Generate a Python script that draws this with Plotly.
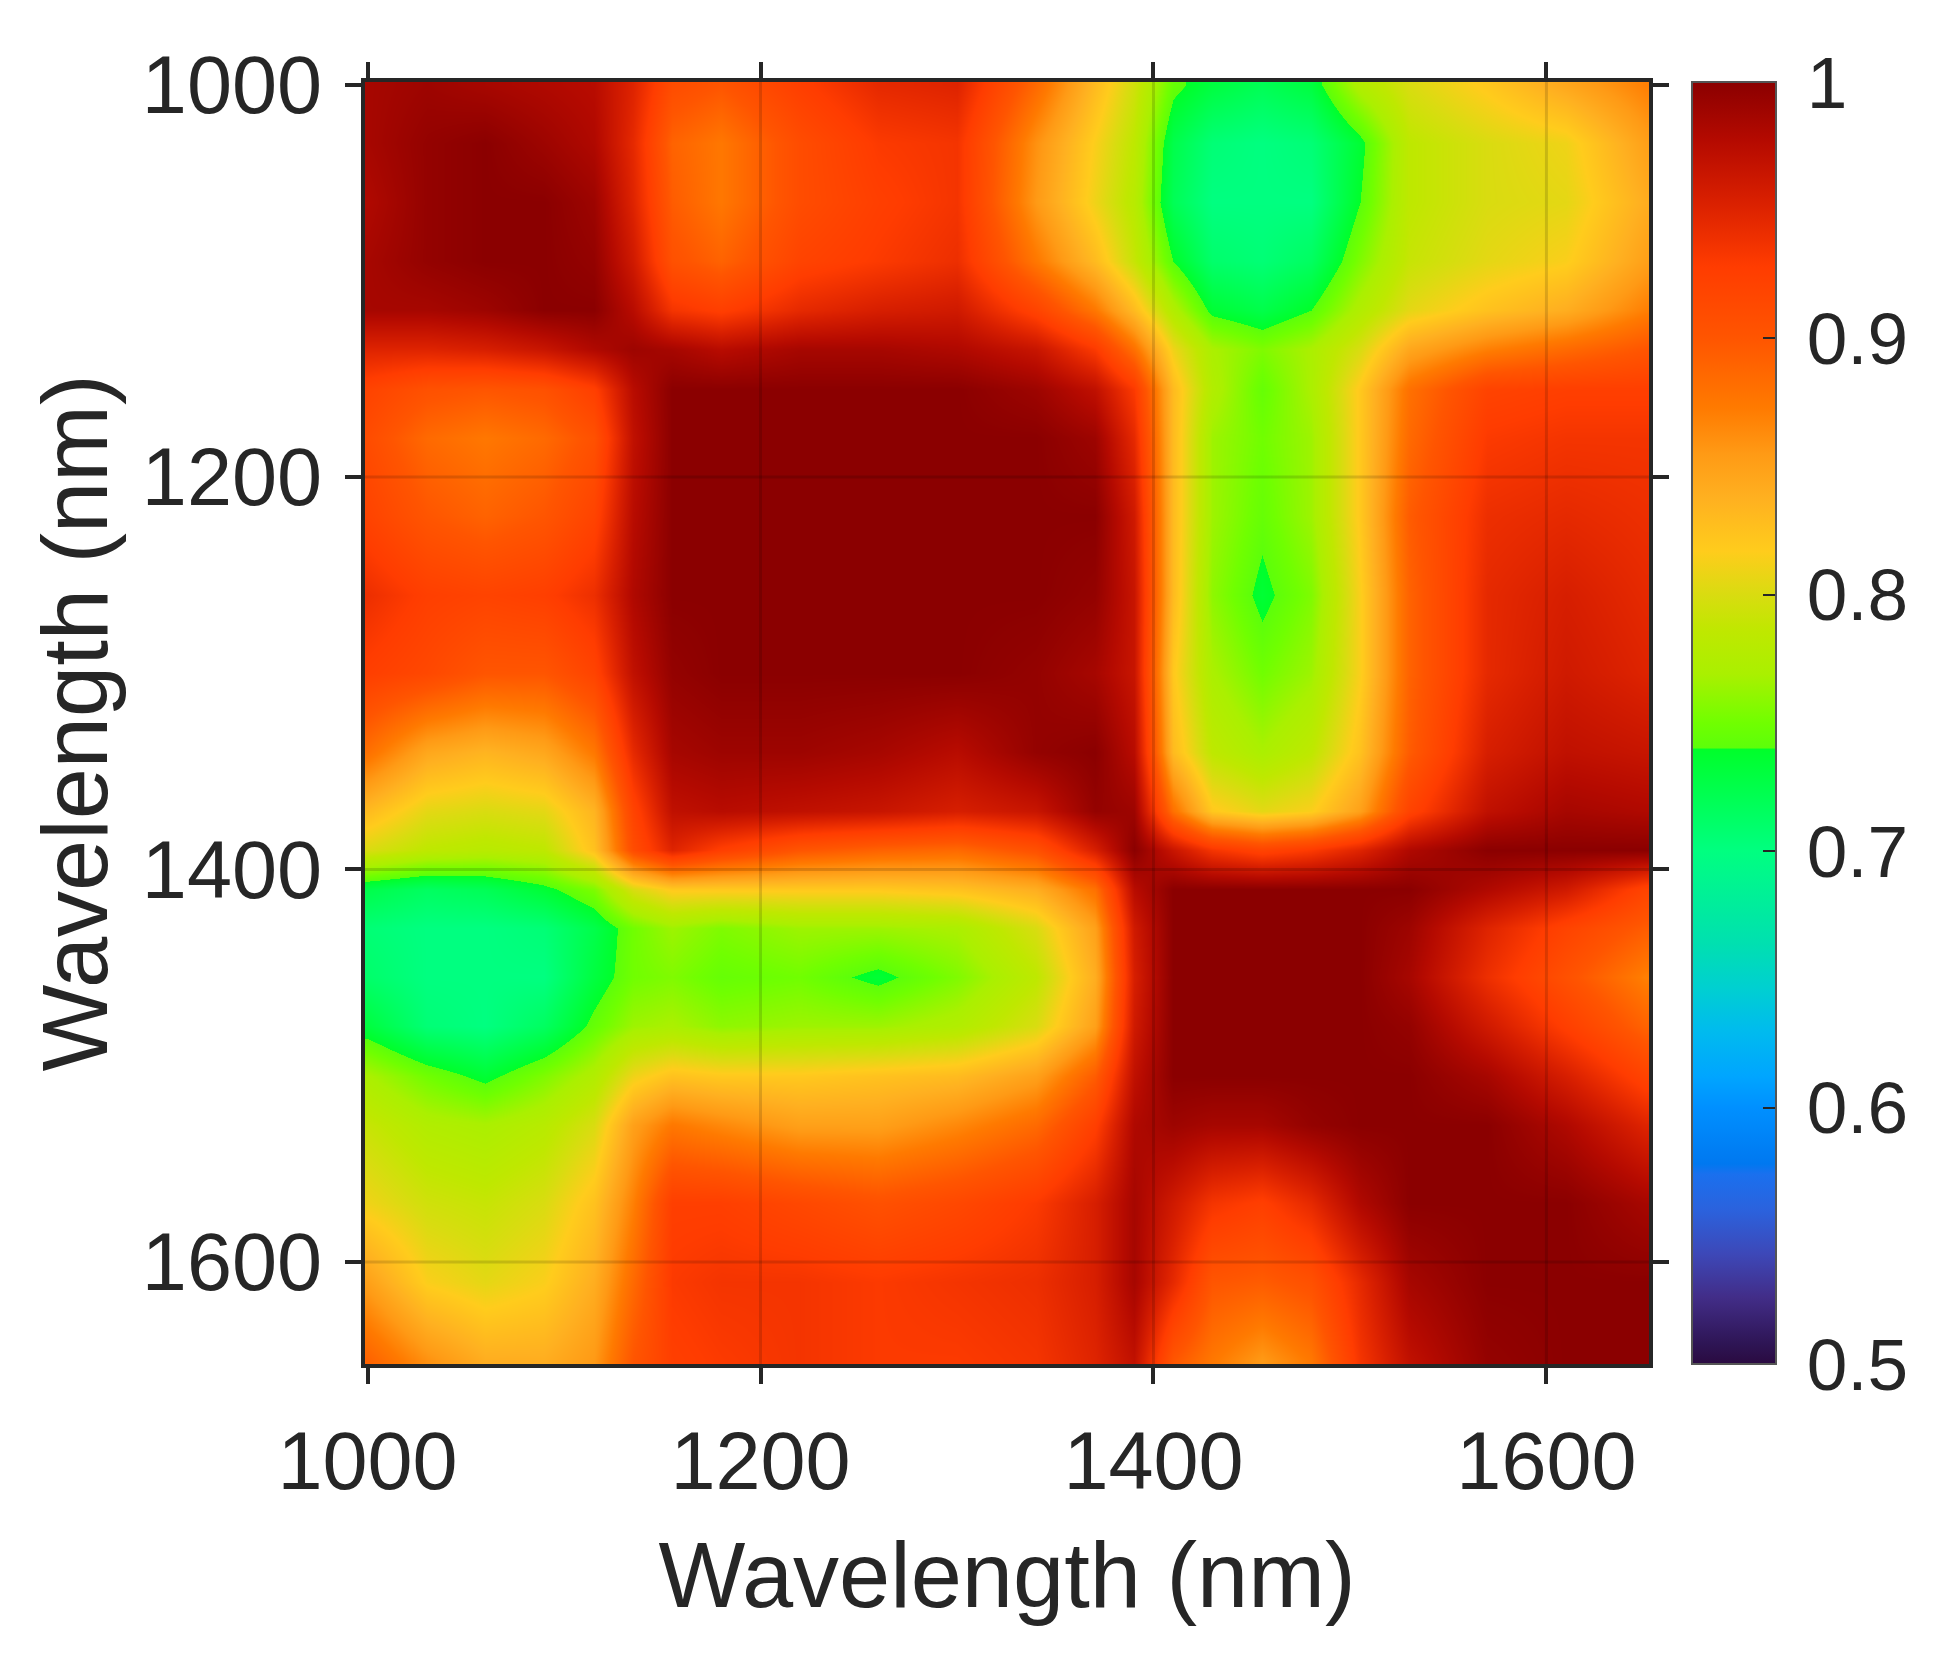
import plotly.graph_objects as go

wavelength_x = [1000,1030,1060,1090,1115,1135,1155,1180,1220,1260,1300,1340,1370,1390,1410,1430,1455,1480,1505,1530,1570,1610,1650]
wavelength_y = [1000,1030,1060,1090,1115,1135,1155,1180,1220,1260,1300,1340,1370,1390,1410,1430,1455,1480,1505,1530,1570,1610,1650]

correlation = [
 [.985,.99,.985,.98,.975,.95,.91,.90,.925,.945,.95,.885,.83,.795,.745,.73,.72,.73,.775,.80,.82,.845,.87],
 [.985,.995,1,.99,.98,.945,.89,.875,.91,.93,.935,.86,.815,.785,.725,.705,.70,.705,.735,.785,.80,.81,.85],
 [.98,.995,1,1,.99,.95,.895,.875,.91,.925,.935,.855,.81,.78,.72,.70,.70,.70,.74,.785,.80,.805,.84],
 [.985,.995,1,1,.995,.96,.905,.89,.92,.93,.94,.875,.83,.79,.74,.71,.705,.715,.755,.79,.805,.815,.85],
 [.985,.985,.99,1,1,.975,.935,.925,.945,.955,.96,.92,.875,.83,.775,.735,.725,.74,.775,.805,.825,.84,.87],
 [.95,.95,.955,.965,.98,.99,.985,.975,.985,.985,.98,.965,.93,.88,.81,.77,.755,.77,.80,.845,.87,.885,.90],
 [.92,.905,.90,.905,.925,.975,1,1,1,1,1,.99,.97,.93,.83,.775,.745,.77,.82,.88,.92,.925,.925],
 [.91,.885,.875,.885,.905,.97,1,1,1,1,1,1,.99,.945,.83,.765,.75,.765,.82,.885,.93,.935,.935],
 [.92,.90,.89,.90,.92,.975,1,1,1,1,1,1,1,.96,.83,.765,.745,.765,.82,.895,.94,.945,.94],
 [.94,.925,.92,.925,.94,.98,1,1,1,1,1,1,.995,.965,.83,.76,.735,.755,.815,.89,.945,.955,.945],
 [.925,.915,.90,.90,.92,.97,.995,1,1,1,1,.995,.985,.965,.82,.77,.75,.765,.815,.89,.945,.96,.95],
 [.88,.845,.835,.845,.875,.945,.985,.99,.99,.985,.975,.995,1,.975,.83,.785,.77,.785,.825,.895,.955,.97,.965],
 [.83,.805,.80,.805,.835,.92,.97,.975,.97,.965,.955,.965,.995,.99,.88,.82,.805,.815,.85,.92,.97,.985,.98],
 [.80,.785,.78,.785,.825,.91,.95,.925,.90,.89,.885,.905,.955,1,.965,.935,.92,.93,.95,.98,1,1,1],
 [.725,.715,.72,.735,.755,.80,.82,.82,.82,.82,.825,.84,.88,.975,1,1,1,1,1,1,.98,.96,.92],
 [.705,.70,.70,.705,.725,.75,.765,.755,.765,.765,.77,.80,.85,.96,1,1,1,1,1,.99,.95,.92,.895],
 [.71,.70,.70,.70,.73,.75,.755,.745,.75,.735,.755,.785,.84,.955,1,1,1,1,1,.985,.94,.905,.87],
 [.73,.705,.70,.715,.745,.765,.77,.76,.765,.765,.775,.80,.85,.96,1,1,1,1,1,.995,.96,.925,.89],
 [.77,.75,.735,.755,.775,.81,.825,.82,.82,.825,.83,.85,.895,.97,1,1,1,1,1,1,.985,.955,.92],
 [.79,.775,.77,.78,.80,.85,.875,.865,.85,.85,.865,.885,.925,.98,.99,.985,.985,.995,1,1,1,.98,.95],
 [.81,.795,.79,.80,.825,.87,.925,.925,.915,.905,.915,.93,.955,.985,.96,.935,.925,.945,.98,1,1,1,.985],
 [.85,.815,.805,.815,.84,.885,.93,.935,.935,.93,.935,.94,.955,.985,.945,.90,.895,.905,.945,.985,1,1,1],
 [.89,.86,.84,.84,.855,.90,.925,.93,.935,.93,.93,.935,.95,.97,.90,.875,.855,.875,.935,.97,.995,1,1],
]

axis_ticks = [1000, 1200, 1400, 1600]
grid_lines = [1200, 1400, 1600]
colorbar_ticks = [0.5, 0.6, 0.7, 0.8, 0.9, 1]
colorbar_labels = ["\u20090.5", "\u20090.6", "\u20090.7", "\u20090.8", "\u20090.9", "\u20091"]

color_values = [.5,.508,.526,.543,.56,.574,.578,.6,.612,.63,.647,.664,.7,.74,.7401,.75,.769,.786,.8,.817,.838,.855,.873,.9,.928,.954,.977,1]
color_list = ["#2a0a40","#2e1555","#422d88","#3d48b8","#2b62dd","#1a70ee","#0078f0","#0090ff","#00a5ff","#00bbee","#00d0d0","#00e0b0","#00ff80","#00ff2a","#5cff0a","#70ff00","#aaf000","#bfe800","#d9dc10","#ffcc1c","#ffb020","#ff9a15","#ff7a00","#ff5500","#ff3c00","#d81f00","#b50a00","#8b0000"]

FONT = "Liberation Sans, Arial, sans-serif"
INK = "#262626"
colorscale = [[(v - .5) / .5, c] for v, c in zip(color_values, color_list)]

fig = go.Figure(go.Heatmap(
    x=wavelength_x, y=wavelength_y, z=correlation,
    zmin=.5, zmax=1, zsmooth="best", colorscale=colorscale,
    colorbar=dict(
        x=1.0335, xanchor="left", xref="paper", y=.5, yanchor="middle", yref="paper", len=1,
        thickness=84, xpad=0, ypad=0, outlinecolor="#555555", outlinewidth=2,
        ticks="inside", ticklen=14, tickwidth=2, tickcolor=INK,
        tickmode="array", tickvals=colorbar_ticks, ticktext=colorbar_labels,
        tickfont=dict(family=FONT, size=73, color=INK),
    ),
))

axis = dict(
    tickmode="array", tickvals=axis_ticks, ticks="outside", ticklen=16, tickwidth=3.5, tickcolor=INK,
    showline=True, linewidth=3.5, linecolor=INK, mirror="ticks", showgrid=False, zeroline=False,
    tickfont=dict(family=FONT, size=81, color=INK),
)
fig.update_xaxes(range=[998.7, 1652.2], ticklabelstandoff=8,
                 title=dict(text="Wavelength (nm)", font=dict(family=FONT, size=92, color=INK), standoff=39),
                 **axis)
fig.update_yaxes(range=[1652, 998.7], ticklabelstandoff=7,
                 title=dict(text="Wavelength (nm)", font=dict(family=FONT, size=92, color=INK), standoff=5),
                 **axis)

for g in grid_lines:
    fig.add_vline(x=g, line=dict(color="rgba(0,0,0,0.14)", width=3), layer="above")
    fig.add_hline(y=g, line=dict(color="rgba(0,0,0,0.14)", width=3), layer="above")

fig.update_layout(
    width=1926, height=1639, autosize=False,
    margin=dict(l=357, r=285, t=74, b=283, autoexpand=False),
    paper_bgcolor="white", plot_bgcolor="white",
)
fig.write_html("out.html")
